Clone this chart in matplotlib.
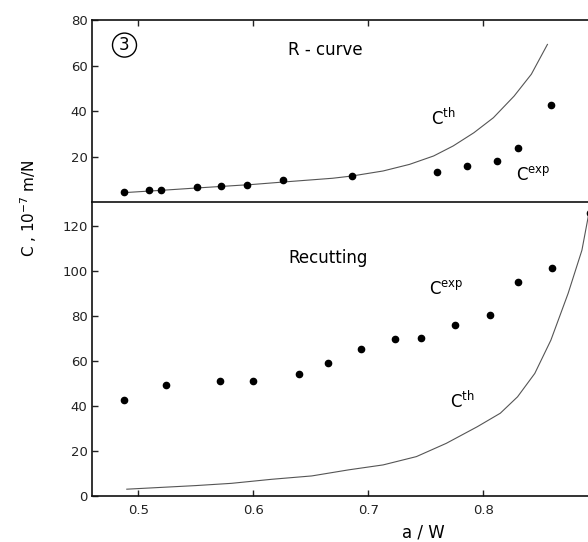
"""Compliance vs a/W: R-curve and recutting."""
import matplotlib
matplotlib.use("Agg")
import matplotlib.pyplot as plt

# R-curve panel (upper)
rc_exp_x = [0.488, 0.509, 0.520, 0.551, 0.572, 0.595, 0.626, 0.686,
            0.760, 0.786, 0.812, 0.830, 0.859]
rc_exp_y = [4.5, 5.5, 5.5, 6.7, 7.0, 7.7, 9.6, 11.5,
            13.4, 15.7, 17.9, 24.0, 42.7]
rc_th_x = [0.488, 0.52, 0.55, 0.60, 0.63, 0.669, 0.686, 0.713, 0.736,
           0.757, 0.774, 0.792, 0.809, 0.827, 0.842, 0.856]
rc_th_y = [4.2, 5.2, 6.2, 7.8, 9.0, 10.5, 11.5, 13.7, 16.6,
           20.3, 24.7, 30.5, 37.1, 46.6, 56.2, 69.3]

# Recutting panel (lower)
re_exp_x = [0.488, 0.524, 0.571, 0.600, 0.640, 0.665, 0.694, 0.723,
            0.746, 0.776, 0.806, 0.830, 0.860, 0.893]
re_exp_y = [42.5, 49.5, 51.2, 51.2, 54.2, 59.2, 65.3, 69.8,
            70.4, 75.9, 80.4, 95.0, 101.5, 125.9]
re_th_x = [0.490, 0.55, 0.581, 0.616, 0.651, 0.683, 0.713, 0.742,
           0.768, 0.795, 0.815, 0.830, 0.845, 0.859, 0.874, 0.886, 0.892]
re_th_y = [3.0, 4.6, 5.6, 7.4, 8.9, 11.6, 13.8, 17.5,
           23.4, 30.8, 36.8, 44.1, 54.5, 69.3, 90.1, 109.3, 125.6]

xticks = [0.5, 0.6, 0.7, 0.8]
xtick_labels = ["0.5", "0.6", "0.7", "0.8"]
upper_yticks = [20, 40, 60, 80]
lower_yticks = [0, 20, 40, 60, 80, 100, 120]

plt.rcParams['font.family'] = ['DejaVu Sans']

fig = plt.figure(figsize=(5.88, 5.42), dpi=100)
ax_up = fig.add_axes([0.157, 0.627, 0.86, 0.336])
ax_lo = fig.add_axes([0.157, 0.085, 0.86, 0.542])

for ax in (ax_up, ax_lo):
    ax.set_xlim(0.46, 0.9)
    ax.spines['right'].set_visible(False)
    ax.tick_params(direction='in', length=4, width=1, labelsize=9.5,
                   colors='#222222')
    for sp in ax.spines.values():
        sp.set_linewidth(1.2)
        sp.set_color('#111111')

# upper
ax_up.plot(rc_th_x, rc_th_y, color='#555555', lw=0.8)
ax_up.plot(rc_exp_x, rc_exp_y, 'o', color='black', ms=4.5)
ax_up.set_ylim(0, 80)
ax_up.set_yticks(upper_yticks)
ax_up.set_xticks(xticks)
ax_up.tick_params(axis='x', bottom=False, top=True, labelbottom=False)
ax_up.spines['bottom'].set_visible(False)
ax_up.text(0.488, 69, "3", fontsize=12, ha='center', va='center',
           bbox=dict(boxstyle='circle,pad=0.18', fc='white', ec='black', lw=1))
ax_up.text(0.63, 67, "R - curve", fontsize=12, ha='left', va='center')
ax_up.text(0.755, 37, r"C$^{\rm th}$", fontsize=12, ha='left', va='center')
ax_up.text(0.829, 12, r"C$^{\rm exp}$", fontsize=12, ha='left', va='center')

# lower
ax_lo.plot(re_th_x, re_th_y, color='#555555', lw=0.8)
ax_lo.plot(re_exp_x, re_exp_y, 'o', color='black', ms=4.5)
ax_lo.set_ylim(0, 130.7)
ax_lo.set_yticks(lower_yticks)
ax_lo.set_xticks(xticks)
ax_lo.set_xticklabels(xtick_labels)
ax_lo.tick_params(axis='x', pad=6)
ax_lo.text(0.631, 106, "Recutting", fontsize=12, ha='left', va='center')
ax_lo.text(0.753, 92, r"C$^{\rm exp}$", fontsize=12, ha='left', va='center')
ax_lo.text(0.771, 42, r"C$^{\rm th}$", fontsize=12, ha='left', va='center')

fig.text(0.72, 0.017, "a / W", fontsize=12, ha='center', va='center')
fig.text(0.048, 0.615, r"C , 10$^{-7}$ m/N", fontsize=11, rotation=90,
         ha='center', va='center')

fig.savefig("out.png", dpi=100)
